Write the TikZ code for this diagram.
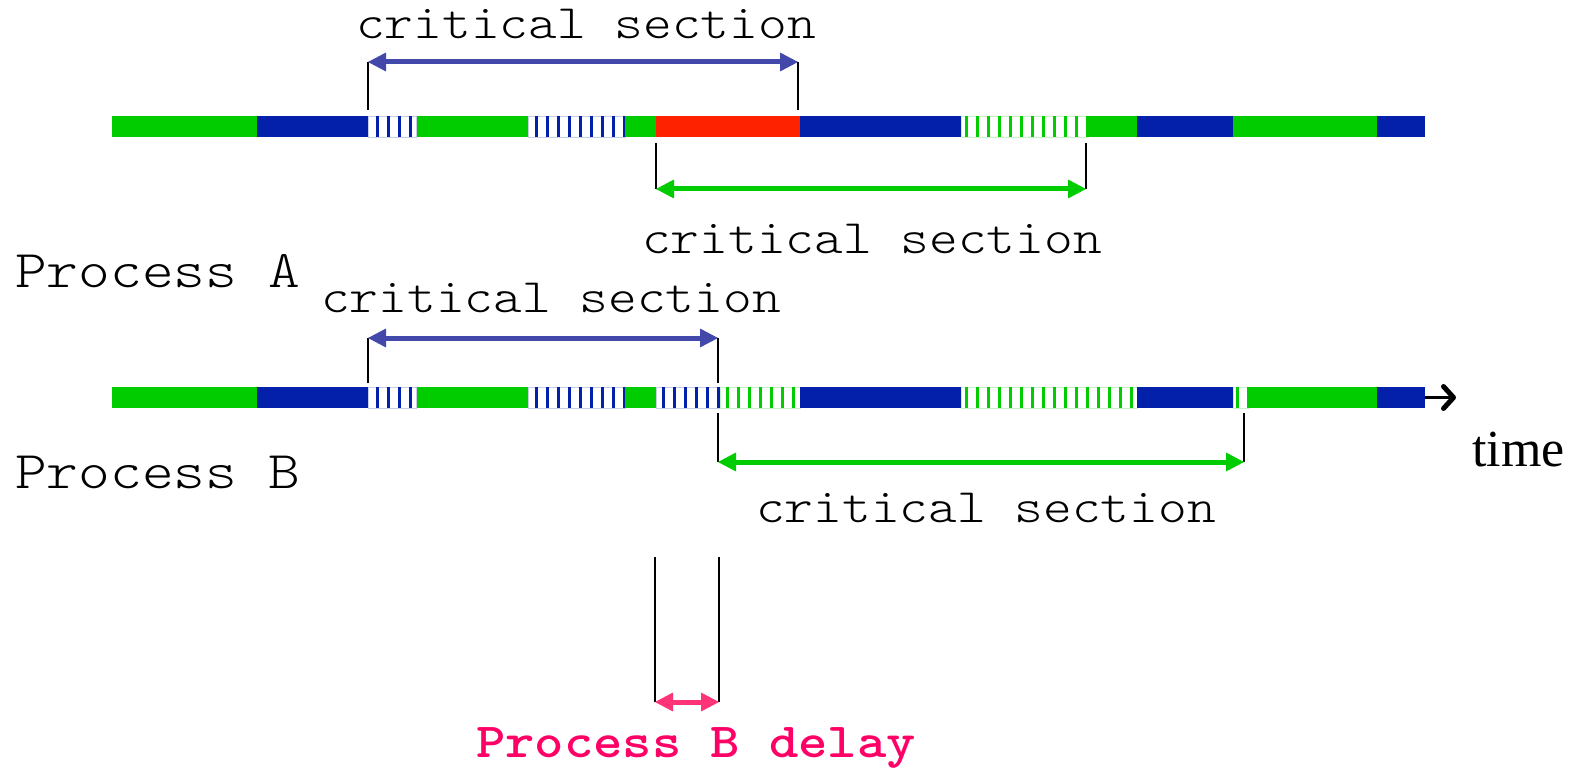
\documentclass[tikz,border=0pt]{standalone}
\usepackage{fontspec}
\usetikzlibrary{arrows.meta}
\newfontfamily\monofam{lmmonolt10-regular}[Extension=.otf,BoldFont=lmmonolt10-bold,FakeStretch=1.14]
\newfontfamily\seriffam{Liberation Serif}
\definecolor{runG}{HTML}{00CC00}
\definecolor{runB}{HTML}{0220AA}
\definecolor{runR}{HTML}{FF2200}
\definecolor{spanB}{HTML}{4349AA}
\definecolor{spanG}{HTML}{00CC00}
\definecolor{spanP}{HTML}{FF3377}
\definecolor{delayTxt}{HTML}{FF0066}
\begin{document}
\begin{tikzpicture}[x=1pt,y=-1pt,
  seg/.style={fill=#1,draw=none},
  stripe/.style={fill=#1,draw=none},
  stripebox/.style={draw=#1!22,line width=0.8pt},
  tick/.style={draw=black,line width=2pt},
  span/.style={draw=#1,line width=5pt,
    {Triangle[length=18pt,width=19pt,line width=0pt]}-{Triangle[length=18pt,width=19pt,line width=0pt]}},
  lbl/.style={font=\monofam\fontsize{48}{50}\selectfont,inner sep=0pt,anchor=base},
  proc/.style={font=\monofam\fontsize{53}{56}\selectfont,inner sep=0pt,anchor=base west},
]
\useasboundingbox (0,0) rectangle (1574,770);

% ---------- Process A time line (y 116..137) ----------
\def\ta{116}\def\tb{137}
\fill[seg=runG] (112,\ta) rectangle (257,\tb);
\fill[seg=runB] (257,\ta) rectangle (368,\tb);
\draw[stripebox=runB] (368,\ta) rectangle (416,\tb);
\foreach \x in {377,388,...,410} \fill[stripe=runB] (\x-1.5,\ta) rectangle (\x+1.5,\tb);
\fill[seg=runG] (417,\ta) rectangle (528,\tb);
\draw[stripebox=runB] (528,\ta) rectangle (625,\tb);
\foreach \x in {536,547,...,624} \fill[stripe=runB] (\x-1.5,\ta) rectangle (\x+1.5,\tb);
\fill[seg=runG] (625,\ta) rectangle (656,\tb);
\fill[seg=runR] (656,\ta) rectangle (800,\tb);
\fill[seg=runB] (800,\ta) rectangle (961,\tb);
\draw[stripebox=runG] (961,\ta) rectangle (1088,\tb);
\foreach \x in {966,977,...,1087} \fill[stripe=runG] (\x-1.5,\ta) rectangle (\x+1.5,\tb);
\fill[seg=runG] (1088,\ta) rectangle (1137,\tb);
\fill[seg=runB] (1137,\ta) rectangle (1233,\tb);
\fill[seg=runG] (1233,\ta) rectangle (1377,\tb);
\fill[seg=runB] (1377,\ta) rectangle (1425,\tb);

% ---------- Process B time line (y 387..408) ----------
\def\ba{387}\def\bb{408}
\fill[seg=runG] (112,\ba) rectangle (257,\bb);
\fill[seg=runB] (257,\ba) rectangle (368,\bb);
\draw[stripebox=runB] (368,\ba) rectangle (416,\bb);
\foreach \x in {377,388,...,410} \fill[stripe=runB] (\x-1.5,\ba) rectangle (\x+1.5,\bb);
\fill[seg=runG] (417,\ba) rectangle (528,\bb);
\draw[stripebox=runB] (528,\ba) rectangle (625,\bb);
\foreach \x in {536,547,...,624} \fill[stripe=runB] (\x-1.5,\ba) rectangle (\x+1.5,\bb);
\fill[seg=runG] (625,\ba) rectangle (656,\bb);
\draw[stripebox=runB] (656,\ba) rectangle (720,\bb);
\foreach \x in {663,674,...,718} \fill[stripe=runB] (\x-1.5,\ba) rectangle (\x+1.5,\bb);
\draw[stripebox=runG] (720,\ba) rectangle (800,\bb);
\foreach \x in {727,738,...,793} \fill[stripe=runG] (\x-1.5,\ba) rectangle (\x+1.5,\bb);
\fill[seg=runB] (800,\ba) rectangle (961,\bb);
\draw[stripebox=runG] (961,\ba) rectangle (1137,\bb);
\foreach \x in {966,977,...,1131} \fill[stripe=runG] (\x-1.5,\ba) rectangle (\x+1.5,\bb);
\fill[seg=runB] (1137,\ba) rectangle (1233,\bb);
\draw[stripebox=runG] (1233,\ba) rectangle (1249,\bb);
\foreach \x in {1237,1248} \fill[stripe=runG] (\x-1.5,\ba) rectangle (\x+1.5,\bb);
\fill[seg=runG] (1249,\ba) rectangle (1377,\bb);
\fill[seg=runB] (1377,\ba) rectangle (1425,\bb);

% time axis arrow
\coordinate (axisStart) at (1425,397.5);
\coordinate (axisEnd) at (1456,397.5);
\draw[line width=2.2pt,-{Straight Barb[length=10pt,width=22pt,line width=5pt,round]}] (axisStart) -- (axisEnd);
\node[font=\seriffam\fontsize{52}{56}\selectfont,inner sep=0pt,anchor=base west] (timeLbl) at (1472,466) {time};

% ---------- Process labels ----------
\node[proc] (procA) at (15,287) {Process A};
\node[proc] (procB) at (15,488) {Process B};

% ---------- Process A critical sections ----------
\coordinate (a1top) at (368,62);  \coordinate (a1bot) at (368,110);
\coordinate (a2top) at (798,62);  \coordinate (a2bot) at (798,110);
\draw[tick] (a1bot) -- (a1top);
\draw[tick] (a2bot) -- (a2top);
\draw[span=spanB] (a1top) -- (a2top);
\node[lbl] (csA1) at (586,39) {critical section};

\coordinate (a3top) at (656,143); \coordinate (a3bot) at (656,189);
\coordinate (a4top) at (1086,143); \coordinate (a4bot) at (1086,189);
\draw[tick] (a3top) -- (a3bot);
\draw[tick] (a4top) -- (a4bot);
\draw[span=spanG] (a3bot) -- (a4bot);
\node[lbl] (csA2) at (872,253) {critical section};

% ---------- Process B critical sections ----------
\coordinate (b1top) at (368,338); \coordinate (b1bot) at (368,383);
\coordinate (b2top) at (718,338); \coordinate (b2bot) at (718,383);
\draw[tick] (b1bot) -- (b1top);
\draw[tick] (b2bot) -- (b2top);
\draw[span=spanB] (b1top) -- (b2top);
\node[lbl] (csB1) at (551,312) {critical section};

\coordinate (b3top) at (718,413); \coordinate (b3bot) at (718,462);
\coordinate (b4top) at (1244,413); \coordinate (b4bot) at (1244,462);
\draw[tick] (b3top) -- (b3bot);
\draw[tick] (b4top) -- (b4bot);
\draw[span=spanG] (b3bot) -- (b4bot);
\node[lbl] (csB2) at (986,522) {critical section};

% ---------- delay of process B ----------
\coordinate (d1top) at (655,557); \coordinate (d1bot) at (655,702);
\coordinate (d2top) at (719,557); \coordinate (d2bot) at (719,702);
\draw[tick] (d1top) -- (d1bot);
\draw[tick] (d2top) -- (d2bot);
\draw[span=spanP] (d1bot) -- (d2bot);
\node[lbl,font=\monofam\bfseries\fontsize{49}{50}\selectfont,text=delayTxt] (delayLbl) at (696,757) {Process B delay};
\end{tikzpicture}
\end{document}
